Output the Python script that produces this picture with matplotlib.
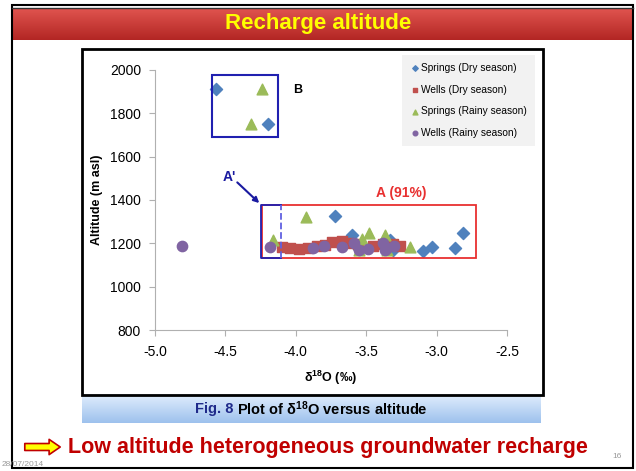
import matplotlib
matplotlib.use('AGG')
import numpy as np
import matplotlib.pyplot as plt
from matplotlib.patches import Rectangle

plt.rcParams['font.family'] = ['Liberation Sans', 'DejaVu Sans']
plt.rcParams['mathtext.fontset'] = 'custom'
plt.rcParams['mathtext.rm'] = 'Liberation Sans'
plt.rcParams['mathtext.bf'] = 'Liberation Sans:bold'
plt.rcParams['mathtext.it'] = 'Liberation Sans:italic'

# data (delta 18O in permil, altitude in m asl)
springs_dry_x = [-4.57, -4.20, -3.72, -3.60, -3.33, -3.31, -3.10, -3.03, -2.87, -2.81, -3.55, -3.36]
springs_dry_y = [1910, 1752, 1326, 1238, 1215, 1170, 1165, 1183, 1180, 1248, 1175, 1190]

wells_dry_x = [-4.10, -4.04, -3.98, -3.91, -3.85, -3.79, -3.74, -3.67, -3.63, -3.56, -3.45, -3.38, -3.31, -3.26]
wells_dry_y = [1183, 1180, 1174, 1180, 1190, 1192, 1206, 1213, 1200, 1195, 1190, 1195, 1195, 1190]

springs_rainy_x = [-4.24, -4.32, -4.16, -3.93, -3.48, -3.53, -3.37, -3.19, -3.55, -3.35]
springs_rainy_y = [1910, 1752, 1215, 1320, 1248, 1220, 1238, 1183, 1168, 1168]

wells_rainy_x = [-4.81, -4.18, -3.88, -3.80, -3.67, -3.59, -3.55, -3.49, -3.38, -3.37, -3.35, -3.30]
wells_rainy_y = [1188, 1183, 1178, 1190, 1185, 1200, 1170, 1175, 1200, 1170, 1180, 1190]

W, H = 636, 471
fig = plt.figure(figsize=(W / 100, H / 100), dpi=100)
fig.patch.set_facecolor('white')

def fx(px):
    return px / W

def fy(py):
    return 1 - py / H

# slide background pieces
bg = fig.add_axes([0, 0, 1, 1], zorder=0)
bg.set_xlim(0, W)
bg.set_ylim(H, 0)
bg.axis('off')
# header band with a vertical gradient
grad = np.linspace(0, 1, 50).reshape(-1, 1)
top_c = np.array([0.88, 0.33, 0.31])
bot_c = np.array([0.70, 0.15, 0.14])
bg.imshow(top_c + (bot_c - top_c) * grad[..., None], extent=[13, 632, 40, 8], aspect='auto', zorder=1)
bg.add_patch(Rectangle((12, 5), 621, 463, fill=False, ec='black', lw=1.5, zorder=2))
bg.plot([12, 633], [8, 8], color='#333333', lw=1, zorder=2)
bg.text(318, 24, 'Recharge altitude', color='#ffff00', fontsize=16, fontweight='bold',
        ha='center', va='center', zorder=3)

# chart frame
bg.add_patch(Rectangle((82, 49), 461, 346, fill=False, ec='black', lw=2, zorder=2))
# caption bar
cap = np.linspace(0, 1, 30).reshape(-1, 1)
c1 = np.array([0.88, 0.93, 0.99])
c2 = np.array([0.62, 0.76, 0.93])
bg.imshow(c1 + (c2 - c1) * cap[..., None], extent=[82, 541, 423, 394], aspect='auto', zorder=1)
t1 = bg.text(195, 409, 'Fig. 8', color='#1f2a8a', fontsize=10.5, fontweight='bold',
             ha='left', va='center', zorder=3)
bg.annotate(r' Plot of $\mathbf{\delta^{18}}$O versus altitude', xy=(1, 0.5), xycoords=t1,
            color='black', fontsize=10.5, fontweight='bold', ha='left', va='center', zorder=3)

# bottom message
bg.annotate('', xy=(63, 447), xytext=(22, 447),
            arrowprops=dict(arrowstyle='simple,head_width=1.1,head_length=0.8,tail_width=0.5',
                            fc='#ffff00', ec='#c00000', lw=1.2), zorder=3)
bg.text(68, 447, 'Low altitude heterogeneous groundwater recharge', color='#c00000',
        fontsize=15.5, fontweight='bold', ha='left', va='center', zorder=3)
bg.text(2, 464, '28/07/2014', color='#999999', fontsize=6, ha='left', va='center', zorder=3)
bg.text(612, 456, '16', color='#999999', fontsize=6, ha='left', va='center', zorder=3)

# the scatter axes
ax = fig.add_axes([fx(155), fy(330), 352 / W, 260 / H], zorder=2)
ax.set_facecolor('none')
ax.set_xlim(-5.0, -2.5)
ax.set_ylim(800, 2000)
ax.set_xticks(np.arange(-5.0, -2.49, 0.5))
ax.set_yticks(np.arange(800, 2001, 200))
ax.xaxis.set_major_formatter(matplotlib.ticker.FormatStrFormatter('%.1f'))
for s in ['top', 'right']:
    ax.spines[s].set_visible(False)
for s in ['left', 'bottom']:
    ax.spines[s].set_color('#b0b0b0')
ax.tick_params(colors='#b0b0b0', labelcolor='black', labelsize=10, length=4, direction='out')
ax.tick_params(axis='x', pad=7)
ax.tick_params(axis='y', pad=6)
ax.set_xlabel(r'$\mathbf{\delta^{18}}$O (‰)', fontsize=9, fontweight='bold', labelpad=7)
ax.set_ylabel('Altitude (m asl)', fontsize=9, fontweight='bold', labelpad=5)

ax.scatter(springs_dry_x, springs_dry_y, marker='D', s=38, color='#4f81bd', label='Springs (Dry season)', zorder=3)
ax.scatter(wells_dry_x, wells_dry_y, marker='s', s=55, color='#c0504d', label='Wells (Dry season)', zorder=3)
ax.scatter(springs_rainy_x, springs_rainy_y, marker='^', s=60, color='#9bbb59', label='Springs (Rainy season)', zorder=3)
ax.scatter(wells_rainy_x, wells_rainy_y, marker='o', s=55, color='#8064a2', label='Wells (Rainy season)', zorder=4)

# group boxes and labels
ax.add_patch(Rectangle((-4.595, 1690), 0.47, 287, fill=False, ec='#2020b0', lw=1.5, zorder=5))
ax.text(-3.99, 1908, 'B', fontsize=9, fontweight='bold', va='center', ha='center')
ax.add_patch(Rectangle((-4.24, 1132), 1.52, 245, fill=False, ec='#e83030', lw=1.3, zorder=5))
ax.plot([-4.105, -4.245, -4.245, -4.105], [1377, 1377, 1132, 1132], color='#2020b0', lw=1.3, zorder=6)
ax.plot([-4.105, -4.105], [1132, 1377], color='#6060e0', lw=1.3, ls='--', zorder=6)
ax.text(-3.25, 1432, 'A (91%)', color='#e83030', fontsize=10, fontweight='bold', ha='center', va='center')
ax.annotate('', xy=(-4.245, 1377), xytext=(-4.43, 1490),
            arrowprops=dict(arrowstyle='-|>', color='#1a1aa0', lw=1.5, mutation_scale=8))
ax.text(-4.47, 1508, "A'", color='#1a1aa0', fontsize=10, fontweight='bold', ha='center', va='center')

leg = ax.legend(loc='upper right', bbox_to_anchor=(fx(535), fy(55)), bbox_transform=fig.transFigure,
                fontsize=7.3, frameon=True, facecolor='#f2f2f2', edgecolor='none', fancybox=False,
                markerscale=0.45, handletextpad=0.1, handlelength=1.0, labelspacing=1.15,
                borderpad=0.8, borderaxespad=0)
leg.get_frame().set_alpha(1)

fig.savefig('out.png', dpi=100)
